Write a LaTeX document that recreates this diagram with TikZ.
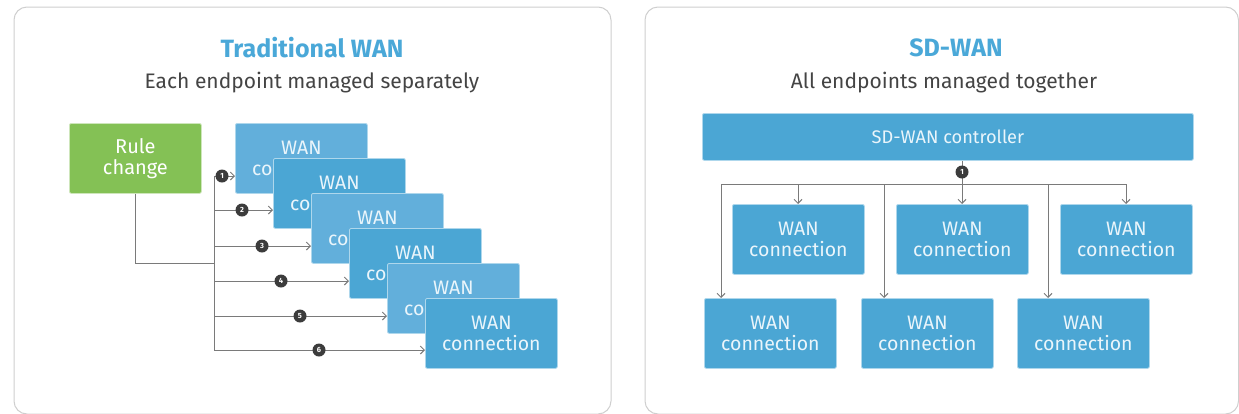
\documentclass[tikz,border=0pt]{standalone}
\usepackage{fontspec}
\setmainfont{Fira Sans}
\usetikzlibrary{arrows.meta}
\definecolor{panelline}{HTML}{CFCFCF}
\definecolor{titleblue}{HTML}{4AA8D8}
\definecolor{subgray}{HTML}{444444}
\definecolor{rulegreen}{HTML}{84C155}
\definecolor{boxdark}{HTML}{4BA6D4}
\definecolor{boxlight}{HTML}{62AFDB}
\definecolor{boxtext}{HTML}{EAF5FB}
\definecolor{linegray}{HTML}{7A7A7A}
\definecolor{badgegray}{HTML}{3C3C3C}
\tikzset{
  panel/.style={draw=panelline, line width=1pt, rounded corners=13pt, fill=white},
  title/.style={text=titleblue, font=\fontsize{25}{28}\selectfont\bfseries},
  subtitle/.style={text=subgray, font=\fontsize{21}{24}\selectfont},
  wanbox/.style={anchor=north west, minimum width=132pt, minimum height=70pt, inner sep=0pt,
    rounded corners=2pt, draw=white!55!boxdark, line width=0.8pt, text=boxtext,
    align=center, font=\fontsize{19.5}{21}\selectfont},
  darkbox/.style={wanbox, fill=boxdark},
  lightbox/.style={wanbox, fill=boxlight},
  rulebox/.style={anchor=north west, minimum width=132pt, minimum height=70pt, inner sep=0pt,
    rounded corners=2pt, fill=rulegreen, draw=white!60!rulegreen, line width=0.8pt, text=white,
    align=center, font=\fontsize{20}{21.5}\selectfont},
  ctrlbox/.style={anchor=north west, minimum width=491pt, minimum height=47pt, inner sep=0pt,
    rounded corners=2pt, fill=boxdark, draw=white!55!boxdark, line width=0.8pt, text=boxtext,
    font=\fontsize{18.2}{21}\selectfont},
  conn/.style={draw=linegray, line width=1pt},
  arr/.style={conn, -{Straight Barb[length=4pt,width=8pt,line width=1pt]}},
  badge/.style={circle, fill=badgegray, inner sep=0pt, minimum size=13pt, text=white,
    font=\fontsize{7.5}{8}\selectfont\bfseries}
}
\begin{document}
\begin{tikzpicture}[x=1pt,y=-1pt]
\useasboundingbox (0,0) rectangle (1239,413);
\fill[white] (0,0) rectangle (1239,413);
% panels
\draw[panel] (14,7) rectangle (611,414);
\draw[panel] (645,7) rectangle (1238.5,414);
% ---------------- left panel ----------------
\node[title] (lt) at (312,48) {Traditional WAN};
\node[subtitle] (ls) at (312,83) {Each endpoint managed separately};
\node[rulebox] (rule) at (69,123) {Rule\\change};
\node[lightbox] (b1) at (235,123) {WAN\\connection};
\node[darkbox]  (b2) at (273,158) {WAN\\connection};
\node[lightbox] (b3) at (311,193) {WAN\\connection};
\node[darkbox]  (b4) at (349,228) {WAN\\connection};
\node[lightbox] (b5) at (387,263) {WAN\\connection};
\node[darkbox]  (b6) at (425,298) {WAN\\connection};
\coordinate (t1) at (214,176);
\coordinate (t2) at (214,210);
\coordinate (t3) at (214,246);
\coordinate (j)  at (214,263);
\coordinate (t4) at (214,281);
\coordinate (t5) at (214,316);
\coordinate (t6) at (214,350);
\draw[conn] (rule.south) |- (j);
\draw[conn] (t1) -- (t6);
\draw[arr] (t1) -- (t1 -| b1.west);
\draw[arr] (t2) -- (t2 -| b2.west);
\draw[arr] (t3) -- (t3 -| b3.west);
\draw[arr] (t4) -- (t4 -| b4.west);
\draw[arr] (t5) -- (t5 -| b5.west);
\draw[arr] (t6) -- (t6 -| b6.west);
\node[badge] (n1) at (222,176) {1};
\node[badge] (n2) at (242,210) {2};
\node[badge] (n3) at (262,246) {3};
\node[badge] (n4) at (281,281) {4};
\node[badge] (n5) at (300,316) {5};
\node[badge] (n6) at (319,350) {6};
% ---------------- right panel ----------------
\node[title] (rt) at (956,48) {SD-WAN};
\node[subtitle] (rs) at (944,83) {All endpoints managed together};
\node[ctrlbox] (ctrl) at (702,113) {SD-WAN controller};
\node[darkbox] (a) at (732,204) {WAN\\connection};
\node[darkbox] (b) at (896,204) {WAN\\connection};
\node[darkbox] (c) at (1060,204) {WAN\\connection};
\node[darkbox] (d) at (704,298) {WAN\\connection};
\node[darkbox] (e) at (861,298) {WAN\\connection};
\node[darkbox] (f) at (1017,298) {WAN\\connection};
\coordinate (h0) at (721,184);
\coordinate (hc) at (962,184);
\coordinate (h5) at (1126,184);
\coordinate (hd) at (721,184);
\coordinate (ha) at (798,184);
\coordinate (he) at (884,184);
\coordinate (hf) at (1048,184);
\draw[conn] (ctrl.south -| hc) -- (hc);
\draw[conn] (h0) -- (h5);
\draw[arr] (ha) -- (ha |- a.north);
\draw[arr] (hc) -- (hc |- b.north);
\draw[arr] (h5) -- (h5 |- c.north);
\draw[arr] (hd) -- (hd |- d.north);
\draw[arr] (he) -- (he |- e.north);
\draw[arr] (hf) -- (hf |- f.north);
\node[badge] (m1) at (962,172) {1};
\end{tikzpicture}
\end{document}
